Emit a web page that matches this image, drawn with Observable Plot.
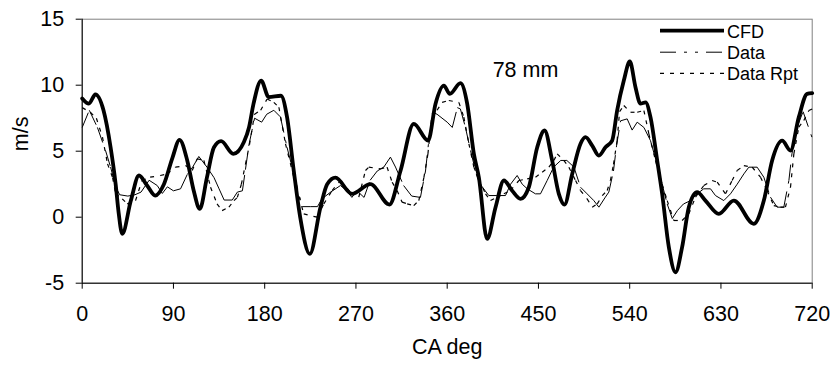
<!DOCTYPE html>
<html>
<head>
<meta charset="utf-8">
<script src="https://cdn.jsdelivr.net/npm/d3@7"></script>
<script src="https://cdn.jsdelivr.net/npm/@observablehq/plot@0.6"></script>
<style>
  html, body { margin: 0; padding: 0; background: #fff; }
  #wrap { position: relative; width: 833px; height: 369px; overflow: hidden; }
  #legend { position: absolute; left: 0; top: 0; }
</style>
</head>
<body>
<div id="wrap"></div>
<script>
// ---- data ----
const seriesNames = ["CFD", "Data", "Data Rpt"];
const xTicks = [0, 90, 180, 270, 360, 450, 540, 630, 720];
const yTicks = [-5, 0, 5, 10, 15];
const annotation = "78 mm";
const xLabel = "CA deg";
const yLabel = "m/s";

// CFD: [crank angle deg, velocity m/s]
const cfdPoints = [[0,9.0],[6.6,8.6],[13,9.3],[21,8.1],[28,5.3],[33,2.5],[36,0.3],[39.5,-1.26],[48,1.26],[56,3.16],[64,2.4],[72,1.64],[80.6,2.5],[89,4.5],[96,5.86],[103.6,4.3],[110,2.0],[116,0.63],[123,3.0],[130,5.3],[137,5.76],[149,4.8],[159.5,5.7],[164.5,6.8],[169,8.6],[176.5,10.35],[184,9.1],[196,9.2],[202,7.6],[208.7,3.5],[215,0],[224.5,-2.78],[235,0.76],[241.6,2.5],[249.8,3.0],[266,1.77],[284.3,2.5],[303,0.96],[313.9,3.5],[327,7.07],[341.2,5.8],[348.5,8.6],[356.7,9.97],[362.6,9.34],[373.1,10.15],[379.7,8.6],[386.3,4.8],[391.2,3.03],[399.4,-1.64],[407.7,0.76],[415.9,2.78],[424.1,2.0],[432.3,1.39],[440.5,2.27],[448.8,5.3],[456,6.57],[463.5,4.3],[470.1,1.77],[475.7,0.96],[483.3,3.28],[491.5,5.56],[496.4,6.06],[503,5.43],[509.6,4.67],[516.1,5.3],[522.7,5.8],[527.6,8.08],[534.2,10.35],[540.1,11.8],[545.7,9.85],[550.6,8.6],[555.6,8.7],[560.5,7.58],[567.1,4.3],[572,1.77],[578.6,-2.27],[585.2,-4.17],[591.7,-2.27],[598.3,0.76],[606.5,1.9],[614.7,1.26],[627.9,0.25],[642.7,1.26],[662.4,-0.5],[672.3,1.26],[680.5,4.3],[690.4,5.8],[698.6,5.05],[706.8,7.58],[715,9.34],[720,9.4]];

// Data (measured)
const dataPoints = [[0,6.8],[7,8.1],[15,6.8],[23,5.05],[28,3.8],[33,2.3],[37,1.7],[45,1.6],[52,1.7],[58,1.9],[66,2.8],[74,2.4],[79,1.8],[84,2.3],[90,2.0],[97,2.15],[104,3.3],[109,3.8],[115,4.6],[123,3.8],[130,3.0],[135,2.15],[140,1.3],[148,1.3],[153,1.9],[158,2.0],[161,3.6],[164.5,5.5],[170,7.5],[177,7.2],[182,7.8],[189,8.1],[195.5,7.6],[202,5.3],[208.7,3.3],[217,0.8],[225,0.8],[232,0.8],[236.6,1.4],[245,1.9],[254.7,2.4],[261,2.0],[266,1.5],[271,2.0],[278,1.5],[284,2.8],[291,3.5],[297.5,3.8],[304,4.55],[309,3.8],[317,2.4],[325,1.6],[333.6,1.5],[338.6,3.5],[342,5.9],[347,7.9],[350,7.8],[360,7.2],[365,6.8],[370,8.3],[373,8.2],[378,6.8],[383,5.05],[389.6,3.0],[394.5,2.3],[401,1.64],[409,1.64],[417.5,1.64],[422.5,2.5],[429,3.16],[434,2.5],[439,2.15],[447,1.77],[452,1.77],[458.6,2.78],[465,3.8],[472,4.3],[478,4.3],[485,3.8],[491.5,2.27],[498,1.77],[504.6,1.26],[509.6,0.76],[516,1.52],[519.4,1.9],[524,3.5],[527,5.4],[531,7.3],[537.5,7.45],[542.4,6.6],[547.4,7.2],[554,6.8],[560.5,5.8],[567,4.0],[572,2.5],[577,1.0],[582,-0.1],[587,0.5],[593,1.0],[600,1.26],[606.5,1.77],[613,2.15],[619.7,2.15],[624.6,1.64],[632.8,1.26],[639.4,1.77],[646,2.5],[652.6,3.28],[657.5,3.79],[665.7,3.79],[672.3,3.03],[678.8,1.52],[685.4,0.76],[692,0.76],[697,2.78],[700,4.8],[705,6.8],[711,8.0],[720,6.0]];

// Data Rpt (repeat measurement)
const rptPoints = [[0,8.3],[8,7.95],[14,7.5],[20,6.06],[25,4.04],[30,3.0],[33,1.77],[39.5,1.39],[44.4,1.01],[52.6,1.26],[59,2.78],[67,3.03],[77,3.16],[84,3.28],[92,3.79],[102,3.91],[108.5,3.54],[113.5,4.42],[120,4.3],[126.6,2.27],[133,1.01],[138,0.5],[144.7,0.76],[149.7,1.26],[153,1.5],[157,2.5],[161,4.0],[165,5.5],[170,7.8],[176,8.1],[182.4,8.96],[189,8.7],[194,8.33],[200.5,5.56],[208.7,3.03],[218.5,0.25],[231.7,0.0],[238.3,1.01],[246.5,2.02],[254.7,2.78],[264.6,1.9],[272.8,1.52],[279.4,3.54],[282.7,3.79],[294,3.66],[300.7,3.79],[305.7,2.65],[310.6,2.02],[315.5,1.14],[320.5,1.01],[327,0.88],[332,1.26],[337,3.0],[341,4.8],[345,7.8],[350,8.1],[355,8.7],[361.6,8.84],[371.5,8.7],[376.4,7.58],[381.4,5.56],[386.3,3.79],[391.2,2.9],[397.8,1.77],[402.7,1.26],[409.3,1.52],[415.9,1.77],[422.5,2.02],[430.7,2.78],[438.9,2.9],[447.1,3.03],[453.7,3.41],[460.3,3.79],[465.2,4.3],[468.5,4.8],[475,4.3],[480,3.79],[486.6,2.78],[491.5,2.02],[498,1.39],[503,0.76],[508,1.01],[512.9,1.64],[517.8,2.02],[521,2.78],[524,4.0],[527.6,5.8],[530,8.0],[534.2,8.46],[540.8,7.95],[547.4,7.95],[554,8.08],[558.9,6.31],[565.4,4.3],[572,2.5],[577,1.26],[583.5,-0.25],[591.7,-0.25],[598.3,0.25],[604.9,1.52],[613.1,2.4],[621.3,2.78],[626.3,2.65],[634.5,1.77],[641,2.78],[646,3.54],[652.6,3.91],[660.8,3.79],[669,3.03],[675.6,2.02],[682.1,0.88],[688.7,0.76],[693.6,0.76],[698.6,2.27],[701.9,4.8],[706.8,6.82],[711.7,7.32],[716.7,8.08],[720,8.2]];

// ---- styles ----
const FONT = "Arial, 'Liberation Sans', Helvetica, sans-serif";
const styles = {
  "CFD":      {stroke: "#000", strokeWidth: 3.8, dash: null},
  "Data":     {stroke: "#000", strokeWidth: 1, dash: "16,8,3,8,3,8"},
  "Data Rpt": {stroke: "#000", strokeWidth: 1.2, dash: "4,6"}
};

const toRows = (pts) => pts.map(([deg, v]) => ({deg, v}));
// each segment drawn separately so the dash pattern restarts at every sample (as in the original)
const toSegments = (pts) => pts.slice(1).map((p, i) => ({x1: pts[i][0], y1: pts[i][1], x2: p[0], y2: p[1]}));
const cfd = toRows(cfdPoints);
const dataSeg = toSegments(dataPoints), rptSeg = toSegments(rptPoints);

const chart = Plot.plot({
  width: 833,
  height: 369,
  marginLeft: 81.7,
  marginRight: 21.3,
  marginTop: 18.7,
  marginBottom: 86.3,
  style: {fontFamily: FONT, fontSize: "21.5px", color: "#000", background: "#fff", overflow: "visible"},
  x: {domain: [0, 720]},
  y: {domain: [-5, 15]},
  marks: [
    Plot.frame({stroke: "#808080", strokeWidth: 1}),
    Plot.ruleX([0], {stroke: "#000", strokeWidth: 1}),
    Plot.ruleY([-5], {stroke: "#000", strokeWidth: 1}),
    Plot.axisX({ticks: xTicks, tickSize: 6, tickPadding: 17, tickFormat: d => `${d}`, label: null, stroke: "#000"}),
    Plot.axisY({ticks: yTicks, tickSize: 6, tickPadding: 12, tickFormat: d => `${d}`, label: null, stroke: "#000"}),
    Plot.link(dataSeg, {x1: "x1", y1: "y1", x2: "x2", y2: "y2", stroke: styles["Data"].stroke, strokeWidth: styles["Data"].strokeWidth, strokeDasharray: styles["Data"].dash}),
    Plot.link(rptSeg, {x1: "x1", y1: "y1", x2: "x2", y2: "y2", stroke: styles["Data Rpt"].stroke, strokeWidth: styles["Data Rpt"].strokeWidth, strokeDasharray: styles["Data Rpt"].dash}),
    Plot.line(cfd, {x: "deg", y: "v", stroke: styles["CFD"].stroke, strokeWidth: styles["CFD"].strokeWidth, curve: "monotone-x", strokeLinejoin: "round"}),
    Plot.text([annotation], {frameAnchor: "top-left", dx: 443.3, dy: 42.9, text: d => d, fontSize: 21.5, fill: "#000", textAnchor: "middle"}),
    Plot.text([xLabel], {frameAnchor: "bottom", dy: 70.6, text: d => d, fontSize: 21.5, fill: "#000"}),
    Plot.text([yLabel], {frameAnchor: "left", dx: -60.7, rotate: -90, text: d => d, fontSize: 21.5, fill: "#000"})
  ]
});

const wrap = document.getElementById("wrap");
wrap.appendChild(chart);

// ---- legend (inside plot area, top-right) ----
const ns = "http://www.w3.org/2000/svg";
const leg = document.createElementNS(ns, "svg");
leg.setAttribute("id", "legend");
leg.setAttribute("width", 833);
leg.setAttribute("height", 369);
leg.style.pointerEvents = "none";
const rowY = [30.7, 52.2, 73.3];
seriesNames.forEach((name, i) => {
  const s = styles[name];
  const ln = document.createElementNS(ns, "line");
  ln.setAttribute("x1", 660); ln.setAttribute("x2", 724);
  ln.setAttribute("y1", rowY[i]); ln.setAttribute("y2", rowY[i]);
  ln.setAttribute("stroke", s.stroke);
  ln.setAttribute("stroke-width", s.strokeWidth);
  if (s.dash) ln.setAttribute("stroke-dasharray", s.dash);
  leg.appendChild(ln);
  const tx = document.createElementNS(ns, "text");
  tx.setAttribute("x", 727);
  tx.setAttribute("y", rowY[i] + 7);
  tx.setAttribute("font-family", FONT);
  tx.setAttribute("font-size", 18);
  tx.setAttribute("fill", "#000");
  tx.textContent = name;
  leg.appendChild(tx);
});
wrap.appendChild(leg);
</script>
</body>
</html>
